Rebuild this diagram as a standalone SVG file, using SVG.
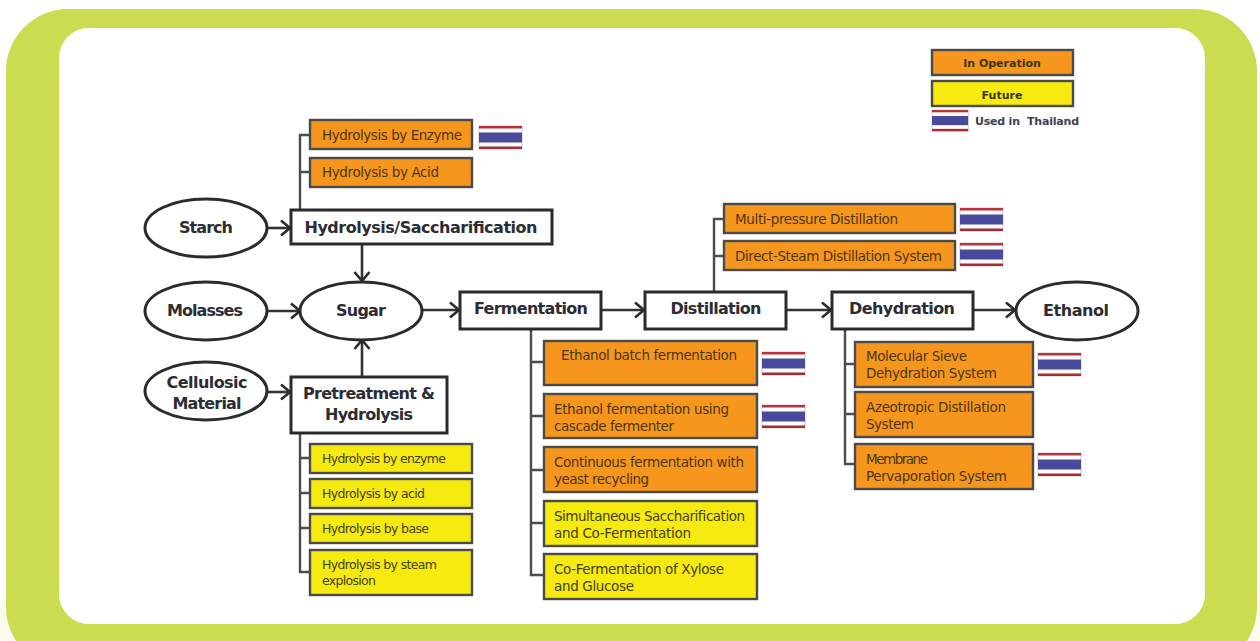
<svg xmlns="http://www.w3.org/2000/svg" width="1260" height="641" viewBox="0 0 1260 641">
<style>
text{font-family:"DejaVu Sans","Liberation Sans",sans-serif}
.o{fill:#f7961c;stroke:#4a4a48;stroke-width:2.400}
.y{fill:#f6ea10;stroke:#4a4a48;stroke-width:2.400}
.w{fill:#fff;stroke:#2b2b2b;stroke-width:3}
.n{font-size:16px;font-weight:700;fill:#2c2c34;text-anchor:middle}
.s{font-size:13.5px;fill:#4a360c}
.t{font-size:13.5px;fill:#43400a}
.c{fill:none;stroke:#333;stroke-width:2.600}
.b{fill:none;stroke:#4d4d4d;stroke-width:2.400}
.l{font-size:11px;font-weight:700;fill:#3a3410;text-anchor:middle}
.r{font-size:12.5px}
</style>
<defs>
<marker id="a" markerUnits="userSpaceOnUse" markerWidth="16" markerHeight="18" refX="13" refY="9" orient="auto"><path d="M4 1.500L13 9L4 16.500" fill="none" stroke="#2b2b2b" stroke-width="2.600"/></marker>
<g id="flag"><rect width="43" height="23" fill="#fff" stroke="#c9bcbc" stroke-width=".8"/><rect width="43" height="2.500" fill="#b8323c"/><rect y="20.500" width="43" height="2.500" fill="#a82a34"/><rect y="6.500" width="43" height="10" fill="#4a4a9c"/></g>
</defs>
<rect width="1260" height="641" fill="#fff"/>
<rect y="600" width="1260" height="41" fill="#fbfbf0"/>
<rect x="6" y="9" width="1251" height="660" rx="62" fill="#cbdc50"/>
<rect x="59" y="28" width="1146" height="596" rx="30" fill="#fff"/>

<g id="connectors">
<path class="b" d="M300 209V135H309M300 172H309"/>
<path class="b" d="M300 433V572H309M300 458H309M300 493H309M300 528H309"/>
<path class="b" d="M531 330V575H544M531 362H544M531 416H544M531 470H544M531 523H544"/>
<path class="b" d="M714 291V219H724M714 256H724"/>
<path class="b" d="M845 330V464H855M845 364H855M845 414H855"/>
<path class="c" marker-end="url(#a)" d="M267 228H290"/>
<path class="c" marker-end="url(#a)" d="M242 311H300"/>
<path class="c" marker-end="url(#a)" d="M267 392H290"/>
<path class="c" marker-end="url(#a)" d="M362 245V281"/>
<path class="c" marker-end="url(#a)" d="M362 376V340"/>
<path class="c" marker-end="url(#a)" d="M423 310H459"/>
<path class="c" marker-end="url(#a)" d="M602 310H644"/>
<path class="c" marker-end="url(#a)" d="M787 310H831"/>
<path class="c" marker-end="url(#a)" d="M974 310H1015"/>
</g>

<g id="legend-operation"><rect class="o" x="932" y="50" width="141" height="25"/><text class="l" x="1002" y="67">In Operation</text></g>
<g id="legend-future"><rect class="y" x="932" y="81" width="141" height="25"/><text class="l" x="1002" y="99">Future</text></g>
<g id="legend-thailand"><use href="#flag" transform="translate(932 110) scale(.84 .92)"/><text x="975" y="125" font-size="11" font-weight="700" fill="#3e3e58" textLength="104" xml:space="preserve">Used in  Thailand</text></g>

<g id="starch"><ellipse class="w" cx="206" cy="228" rx="61" ry="29"/><text class="n" x="206" y="233" textLength="54">Starch</text></g>
<g id="molasses"><ellipse class="w" cx="206" cy="311" rx="61" ry="29"/><text class="n" x="205" y="316" textLength="76">Molasses</text></g>
<g id="cellulosic"><ellipse class="w" cx="206" cy="391" rx="61" ry="29"/><text class="n" x="207" y="388" textLength="81">Cellulosic</text><text class="n" x="207" y="409" textLength="69">Material</text></g>
<g id="sugar"><ellipse class="w" cx="361" cy="311" rx="61" ry="29"/><text class="n" x="361" y="316" textLength="50">Sugar</text></g>
<g id="ethanol"><ellipse class="w" cx="1077" cy="311" rx="61" ry="29"/><text class="n" x="1076" y="316" textLength="66">Ethanol</text></g>
<g id="hydrolysis-sacch"><rect class="w" x="291" y="210" width="261" height="34"/><text class="n" x="421" y="233" textLength="233">Hydrolysis/Saccharification</text></g>
<g id="pretreatment"><rect class="w" x="291" y="377" width="156" height="56"/><text class="n" x="369" y="399" textLength="132">Pretreatment &amp;</text><text class="n" x="369" y="420" textLength="88">Hydrolysis</text></g>
<g id="fermentation"><rect class="w" x="460" y="292" width="141" height="37"/><text class="n" x="531" y="314" textLength="114">Fermentation</text></g>
<g id="distillation"><rect class="w" x="645" y="292" width="141" height="37"/><text class="n" x="716" y="314" textLength="91">Distillation</text></g>
<g id="dehydration"><rect class="w" x="832" y="292" width="141" height="37"/><text class="n" x="902" y="314" textLength="106">Dehydration</text></g>

<g id="h-enzyme"><rect class="o" x="310" y="120" width="162" height="29"/><text class="s" x="322" y="140" textLength="140">Hydrolysis by Enzyme</text><use href="#flag" x="479" y="126"/></g>
<g id="h-acid"><rect class="o" x="310" y="158" width="162" height="29"/><text class="s" x="322" y="177" textLength="117">Hydrolysis by Acid</text></g>
<g id="p-enzyme"><rect class="y" x="310" y="444" width="162" height="29"/><text class="t r" x="322" y="463" textLength="124">Hydrolysis by enzyme</text></g>
<g id="p-acid"><rect class="y" x="310" y="479" width="162" height="29"/><text class="t r" x="322" y="498" textLength="103">Hydrolysis by acid</text></g>
<g id="p-base"><rect class="y" x="310" y="514" width="162" height="29"/><text class="t r" x="322" y="533" textLength="107">Hydrolysis by base</text></g>
<g id="p-steam"><rect class="y" x="310" y="550" width="162" height="45"/><text class="t r" x="322" y="569" textLength="115">Hydrolysis by steam</text><text class="t r" x="322" y="585" textLength="54">explosion</text></g>

<g id="f-batch"><rect class="o" x="544" y="341" width="213" height="44"/><text class="s" x="561" y="360" textLength="176">Ethanol batch fermentation</text><use href="#flag" x="762" y="352"/></g>
<g id="f-cascade"><rect class="o" x="544" y="394" width="213" height="44"/><text class="s" x="554" y="414" textLength="175">Ethanol fermentation using</text><text class="s" x="554" y="431" textLength="120">cascade fermenter</text><use href="#flag" x="762" y="405"/></g>
<g id="f-continuous"><rect class="o" x="544" y="447" width="213" height="45"/><text class="s" x="554" y="467" textLength="190">Continuous fermentation with</text><text class="s" x="554" y="484" textLength="95">yeast recycling</text></g>
<g id="f-ssf"><rect class="y" x="544" y="501" width="213" height="45"/><text class="t" x="554" y="521" textLength="191">Simultaneous Saccharification</text><text class="t" x="554" y="538" textLength="137">and Co-Fermentation</text></g>
<g id="f-xylose"><rect class="y" x="544" y="554" width="213" height="45"/><text class="t" x="554" y="574" textLength="170">Co-Fermentation of Xylose</text><text class="t" x="554" y="591" textLength="80">and Glucose</text></g>

<g id="d-multi"><rect class="o" x="724" y="204" width="231" height="29"/><text class="s" x="735" y="224" textLength="163">Multi-pressure Distillation</text><use href="#flag" x="960" y="208"/></g>
<g id="d-steam"><rect class="o" x="724" y="241" width="231" height="29"/><text class="s" x="735" y="261" textLength="207">Direct-Steam Distillation System</text><use href="#flag" x="960" y="243"/></g>

<g id="m-sieve"><rect class="o" x="855" y="342" width="178" height="45"/><text class="s" x="866" y="361" textLength="101">Molecular Sieve</text><text class="s" x="866" y="378" textLength="131">Dehydration System</text><use href="#flag" x="1038" y="353"/></g>
<g id="m-azeo"><rect class="o" x="855" y="392" width="178" height="45"/><text class="s" x="866" y="412" textLength="140">Azeotropic Distillation</text><text class="s" x="866" y="429" textLength="48">System</text></g>
<g id="m-membrane"><rect class="o" x="855" y="444" width="178" height="45"/><text class="s" x="866" y="464" textLength="62">Membrane</text><text class="s" x="866" y="481" textLength="141">Pervaporation System</text><use href="#flag" x="1038" y="453"/></g>
</svg>
